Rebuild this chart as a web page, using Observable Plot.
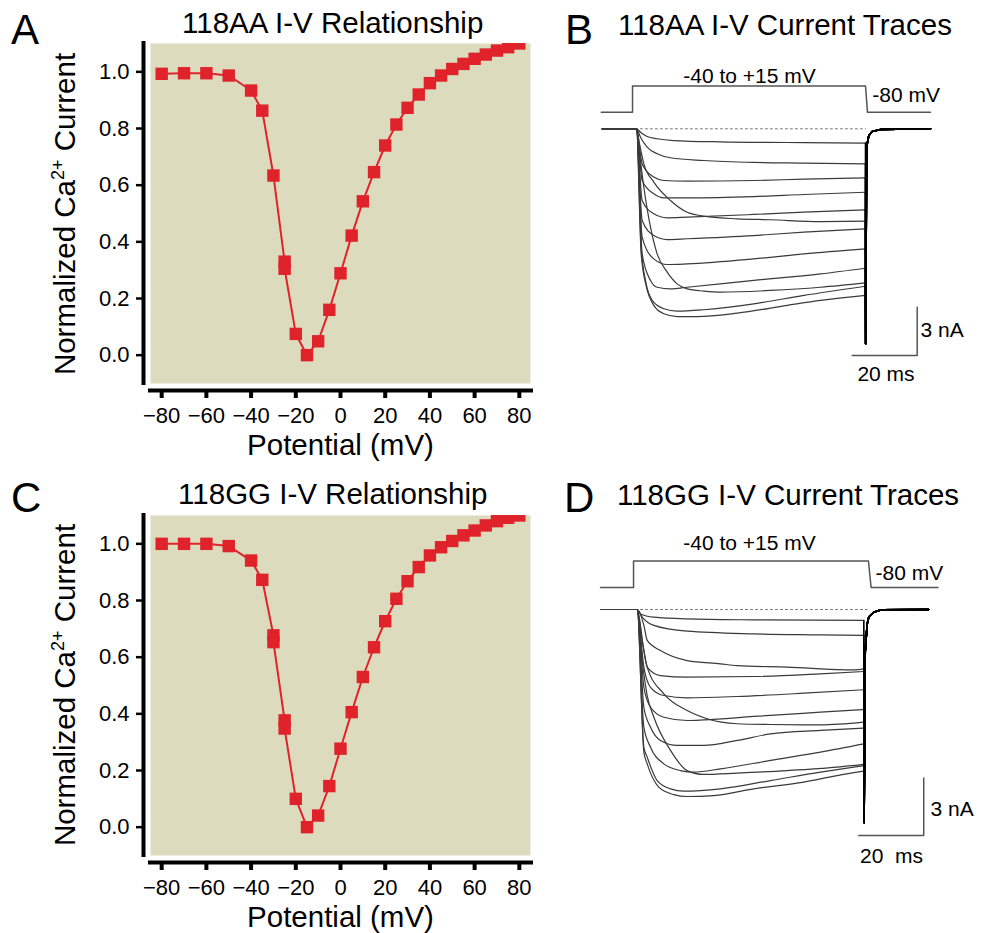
<!DOCTYPE html>
<html><head><meta charset="utf-8">
<script src="https://cdn.jsdelivr.net/npm/d3@7"></script>
<script src="https://cdn.jsdelivr.net/npm/@observablehq/plot@0.6"></script>
<style>
html,body{margin:0;padding:0;background:#fff;}
#fig{position:relative;width:981px;height:933px;overflow:hidden;background:#fff;}
</style></head><body><div id="fig"></div>
<script>
// ---------------- DATA ----------------
// Panel A / C : normalized I-V relationships
const potentialsAA = [-80,-70,-60,-50,-40,-35,-30,-25,-25,-20,-15,-10,-5,0,5,10,15,20,25,30,35,40,45,50,55,60,65,70,75,80];
const current118AA = [0.993,0.995,0.995,0.987,0.934,0.863,0.634,0.33,0.305,0.075,0.0,0.049,0.16,0.289,0.422,0.543,0.646,0.74,0.814,0.873,0.92,0.96,0.987,1.01,1.028,1.046,1.061,1.075,1.087,1.1];
const potentialsGG = [-80,-70,-60,-50,-40,-35,-30,-30,-25,-25,-20,-15,-10,-5,0,5,10,15,20,25,30,35,40,45,50,55,60,65,70,75,80];
const current118GG = [1.0,1.0,1.0,0.992,0.941,0.873,0.677,0.653,0.377,0.348,0.10,0.0,0.041,0.145,0.277,0.406,0.53,0.635,0.727,0.806,0.868,0.918,0.959,0.988,1.01,1.03,1.047,1.065,1.08,1.092,1.1];
const xTicks = [-80,-60,-40,-20,0,20,40,60,80];
const yTicks = [0,0.2,0.4,0.6,0.8,1.0];

// Panel B : 118AA current traces [time ms, current nA]
const tracesB = [
  [[1.23,0],[2.46,-0.21],[4.51,-0.48],[7.59,-0.62],[12.72,-0.73],[27.08,-0.81],[47.59,-0.85],[71.69,-0.89]],
  [[1.23,0],[2.46,-0.52],[4.51,-1.14],[7.59,-1.55],[11.69,-1.80],[21.95,-1.97],[37.33,-2.09],[52.72,-2.13],[71.69,-2.18]],
  [[1.23,0],[2.97,-2.18],[6.56,-3.00],[9.64,-3.21],[16.82,-3.25],[37.33,-3.21],[52.72,-3.13],[71.69,-3.05]],
  [[1.23,0],[2.97,-3.21],[6.56,-4.04],[9.64,-4.29],[16.82,-4.29],[37.33,-4.21],[52.72,-4.08],[71.69,-3.94]],
  [[1.23,0],[1.95,-0.73],[3.49,-2.18],[6.56,-3.31],[11.69,-4.45],[16.82,-5.18],[22.97,-5.45],[32.2,-5.59],[42.46,-5.65],[57.85,-5.76],[71.69,-5.74]],
  [[1.23,0],[2.97,-4.45],[6.56,-5.28],[10.67,-5.53],[16.82,-5.49],[37.33,-5.32],[52.72,-5.18],[71.69,-5.03]],
  [[1.23,0],[2.97,-5.70],[6.56,-6.63],[10.67,-6.88],[16.82,-6.83],[37.33,-6.63],[52.72,-6.42],[71.69,-6.21]],
  [[1.23,0],[2.97,-6.73],[6.56,-8.08],[10.67,-8.43],[16.82,-8.39],[37.33,-8.08],[52.72,-7.77],[71.69,-7.46]],
  [[1.23,0],[1.95,-1.14],[3.49,-3.63],[5.54,-6.11],[7.59,-7.77],[10.67,-8.90],[13.74,-9.63],[16.82,-9.94],[21.95,-10.08],[27.08,-10.15],[42.46,-10.04],[57.85,-9.84],[71.69,-9.57]],
  [[1.23,0],[2.97,-7.77],[5.54,-9.42],[7.59,-9.84],[11.69,-9.94],[16.82,-9.84],[37.33,-9.42],[57.85,-9.01],[71.69,-8.66]],
  [[1.23,0],[2.66,-7.35],[4.0,-9.42],[6.05,-10.66],[9.64,-11.18],[13.74,-11.33],[21.95,-11.24],[37.33,-10.87],[52.72,-10.35],[71.69,-9.78]],
  [[1.23,0],[2.66,-7.77],[4.31,-9.84],[6.56,-10.97],[9.64,-11.49],[13.74,-11.66],[19.9,-11.66],[32.2,-11.45],[47.59,-10.97],[57.85,-10.66],[71.69,-10.35]]
];
const startB = -9.3;
const tailB = [[71.75,-13.35],[72.0,-2.5],[72.2,-0.95],[72.72,-0.42],[73.75,-0.17],[76.31,-0.04],[91.7,0]];
const dottedB = [[0.9,0],[71.7,0]];
const protocolB = [[-9.6,-80],[0,-80],[0,15],[71.7,15],[72.3,-80],[91.7,-80]];
const scaleBarB = [[67.6,-14.08],[87.6,-14.08],[87.6,-11.08]];

// Panel D : 118GG current traces [time ms, current nA]
const tracesD = [
  [[1.13,0],[2.15,-0.23],[6.26,-0.40],[16.51,-0.49],[37.03,-0.54],[70.87,-0.57]],
  [[1.13,0],[2.67,-0.40],[6.26,-0.83],[16.51,-1.13],[37.03,-1.27],[57.54,-1.32],[70.87,-1.35]],
  [[1.13,0],[3.18,-0.83],[4.21,-1.61],[8.31,-2.14],[16.51,-2.66],[26.77,-2.83],[31.9,-2.92],[47.28,-3.0],[67.79,-3.14],[70.87,-3.09]],
  [[1.13,0],[3.18,-2.14],[4.21,-3.0],[8.31,-3.44],[16.51,-3.52],[37.03,-3.49],[57.54,-3.35],[70.87,-3.23]],
  [[1.13,0],[3.18,-3.0],[5.23,-4.05],[9.33,-4.48],[16.51,-4.60],[31.9,-4.53],[52.41,-4.36],[70.87,-4.18]],
  [[1.13,0],[2.67,-1.61],[4.21,-3.0],[9.33,-4.39],[16.51,-5.26],[22.67,-5.69],[31.9,-5.95],[42.15,-5.99],[57.54,-6.01],[70.87,-5.87]],
  [[1.13,0],[3.18,-4.05],[5.23,-5.09],[9.33,-5.61],[16.51,-5.78],[21.64,-5.75],[37.03,-5.57],[57.54,-5.35],[70.87,-5.21]],
  [[1.13,0],[3.18,-5.09],[5.23,-6.13],[8.31,-6.82],[13.44,-7.08],[21.64,-7.08],[31.9,-6.82],[42.15,-6.48],[57.54,-6.30],[70.87,-6.18]],
  [[1.13,0],[3.18,-6.13],[5.23,-7.17],[9.33,-8.04],[14.46,-8.39],[18.56,-8.47],[26.77,-8.30],[42.15,-7.86],[57.54,-7.43],[70.87,-7.0]],
  [[1.13,0],[2.67,-2.66],[4.21,-4.48],[6.26,-5.61],[11.38,-7.34],[16.51,-8.39],[21.64,-8.59],[31.9,-8.52],[47.28,-8.39],[62.67,-8.21],[70.87,-8.07]],
  [[1.13,0],[3.18,-7.17],[4.21,-7.69],[7.28,-8.91],[11.38,-9.34],[15.49,-9.46],[26.77,-9.34],[42.15,-8.91],[57.54,-8.47],[70.87,-8.13]],
  [[1.13,0],[3.18,-7.43],[4.21,-8.04],[7.79,-9.25],[12.41,-9.64],[16.51,-9.74],[24.72,-9.69],[37.03,-9.34],[52.41,-8.99],[62.67,-8.65],[70.87,-8.42]]
];
const startD = -10.15;
const tailD = [[70.95,-11.1],[71.3,-2.2],[71.9,-0.75],[72.4,-0.40],[73.9,-0.14],[76.0,-0.02],[90.8,0]];
const dottedD = [[2.15,0],[71.9,0]];
const protocolD = [[-10.15,-80],[0,-80],[0,15],[72.3,15],[73.1,-80],[93.7,-80]];
const scaleBarD = [[69.3,-11.77],[89.3,-11.77],[89.3,-8.77]];

const panelTitles = ["118AA I-V Relationship","118AA I-V Current Traces","118GG I-V Relationship","118GG I-V Current Traces"];
const panelLetters = ["A","B","C","D"];
const stepLabel = "-40 to +15 mV";
const holdLabel = "-80 mV";
const xLabel = "Potential (mV)";

// ---------------- STYLE ----------------
const FONT = '"Liberation Sans", Arial, Helvetica, sans-serif';
const BG = "#dcdbbd";
const RED = "#e0232b";
const TRACE = "#3a3a3a";
const GRAY = "#555";

const fig = document.getElementById("fig");
function place(el, left, top) {
  el.style.position = "absolute";
  el.style.left = left + "px";
  el.style.top = top + "px";
  fig.appendChild(el);
}

// ---------------- I-V panels ----------------
function ivPanel(vs, is, top, mt, mb) {
  const data = vs.map((v, k) => ({v, i: is[k]}));
  return place(Plot.plot({
    width: 560, height: 460,
    marginLeft: 150, marginRight: 30, marginTop: mt, marginBottom: mb,
    x: {domain: [-85, 85]},
    y: {domain: [-0.1, 1.1]},
    style: {fontFamily: FONT, fontSize: "22px", color: "#000", background: "transparent", overflow: "visible"},
    marks: [
      Plot.frame({fill: BG, stroke: "none"}),
      Plot.ruleX([-85], {dx: -7, strokeWidth: 4, insetTop: -2, insetBottom: -2}),
      Plot.ruleY([-0.1], {dy: 7, strokeWidth: 4, insetLeft: -2, insetRight: -3}),
      Plot.axisX(xTicks, {tickSize: 8, dy: 7, strokeWidth: 4, tickPadding: 9, fontSize: 22, label: null}),
      Plot.axisY(yTicks, {tickSize: 7, dx: -7, strokeWidth: 2.5, tickPadding: 7, fontSize: 22, label: null, tickFormat: d => d.toFixed(1)}),
      Plot.line(data, {x: "v", y: "i", stroke: RED, strokeWidth: 2, clip: true}),
      Plot.dot(data, {x: "v", y: "i", symbol: "square", r: 7, fill: RED, stroke: "none", clip: true}),
      Plot.text([xLabel], {frameAnchor: "bottom", dy: 62, fontSize: 29.5, lineAnchor: "middle", fill: "#000"})
    ]
  }), 0, top);
}
ivPanel(potentialsAA, current118AA, 0, 43, 77);
ivPanel(potentialsGG, current118GG, 470, 45, 75);

// ---------------- trace panels ----------------
function tracePanel(traces, start, tail, dotted, protocol, bar, opt) {
  const rows = traces.flatMap((tr, k) => [[start, 0], ...tr].map(([t, i]) => ({t, i, k})));
  const tailRows = traces.flatMap((tr, k) => [tr[tr.length - 1], ...tail].map(([t, i]) => ({t, i, k})));
  const common = {width: 391, marginLeft: opt.ml, marginRight: opt.mr, x: {domain: opt.xd, axis: null},
    style: {fontFamily: FONT, fontSize: "21px", color: "#000", background: "transparent", overflow: "visible"}};
  // voltage protocol
  place(Plot.plot({...common,
    height: opt.pH, marginTop: opt.pMt, marginBottom: 3,
    y: {domain: [-100, 40], axis: null},
    marks: [
      Plot.line(protocol, {x: d => d[0], y: d => d[1], stroke: GRAY, strokeWidth: 1.5}),
      Plot.text([stepLabel], {x: opt.stepX, y: opt.stepY, fontSize: 21, textAnchor: "middle", lineAnchor: "middle", fill: "#000"}),
      Plot.text([holdLabel], {x: opt.holdX, y: opt.holdY, fontSize: 21, textAnchor: "start", lineAnchor: "middle", fill: "#000"})
    ]
  }), 590, opt.pTop);
  // currents
  place(Plot.plot({...common,
    height: opt.tH, marginTop: opt.tMt, marginBottom: opt.tMb,
    y: {domain: opt.yd, axis: null},
    marks: [
      Plot.line(dotted, {x: d => d[0], y: d => d[1], stroke: "#777", strokeWidth: 1, strokeDasharray: "2,3"}),
      Plot.line(rows, {x: "t", y: "i", z: "k", curve: "monotone-x", stroke: TRACE, strokeWidth: 1.2}),
      Plot.line(tailRows, {x: "t", y: "i", z: "k", stroke: "#000", strokeWidth: 1.6}),
      Plot.line(bar, {x: d => d[0], y: d => d[1], stroke: GRAY, strokeWidth: 1.5}),
      Plot.text(["3 nA"], {x: opt.nAX, y: opt.nAY, fontSize: 21, textAnchor: "start", lineAnchor: "middle", fill: "#000"}),
      Plot.text([opt.msLabel], {x: opt.msX, y: opt.msY, fontSize: 21, textAnchor: "middle", lineAnchor: "middle", fill: "#000"})
    ]
  }), 590, opt.tTop);
}
tracePanel(tracesB, startB, tailB, dottedB, protocolB, scaleBarB, {
  ml: 9.5, mr: 46.75, xd: [-10, 93],
  pTop: 55, pH: 65.2, pMt: 23.6, stepX: 36, stepY: 52, holdX: 73.8, holdY: -20.5,
  tTop: 115, tH: 285, tMt: 5.25, tMb: 14.1, yd: [-16, 0.5],
  nAX: 88.6, nAY: -12.53, msLabel: "20 ms", msX: 78, msY: -15.25
});
tracePanel(tracesD, startD, tailD, dottedD, protocolD, scaleBarD, {
  ml: 8.9, mr: 42.5, xd: [-10.5, 94],
  pTop: 528, pH: 67.6, pMt: 25.5, stepX: 35.7, stepY: 79.5, holdX: 74.5, holdY: -27.3,
  tTop: 595, tH: 275, tMt: 4.4, tMb: 11.4, yd: [-13, 0.5],
  nAX: 91.4, nAY: -10.41, msLabel: "20  ms", msX: 79.4, msY: -12.85
});

// ---------------- titles, letters, y-axis titles ----------------
const ov = d3.create("svg").attr("width", 981).attr("height", 933)
  .style("position", "absolute").style("left", "0px").style("top", "0px")
  .style("pointer-events", "none").style("font-family", FONT).attr("fill", "#000");
ov.append("text").attr("x", 332.7).attr("y", 33).attr("text-anchor", "middle").attr("font-size", 29.5).text(panelTitles[0]);
ov.append("text").attr("x", 618).attr("y", 35).attr("font-size", 29.5).text(panelTitles[1]);
ov.append("text").attr("x", 332.8).attr("y", 504).attr("text-anchor", "middle").attr("font-size", 29.5).text(panelTitles[2]);
ov.append("text").attr("x", 617).attr("y", 505).attr("font-size", 29.5).text(panelTitles[3]);
ov.append("text").attr("x", 11).attr("y", 44).attr("font-size", 42).text(panelLetters[0]);
ov.append("text").attr("x", 565).attr("y", 44).attr("font-size", 42).text(panelLetters[1]);
ov.append("text").attr("x", 11).attr("y", 512).attr("font-size", 42).text(panelLetters[2]);
ov.append("text").attr("x", 564).attr("y", 512).attr("font-size", 42).text(panelLetters[3]);
for (const cy of [214, 685]) {
  const t = ov.append("text").attr("transform", `translate(75,${cy}) rotate(-90)`).attr("text-anchor", "middle").attr("font-size", 29.5);
  t.append("tspan").text("Normalized Ca");
  t.append("tspan").attr("dy", -11).attr("font-size", 18).text("2+");
  t.append("tspan").attr("dy", 11).text(" Current");
}
fig.appendChild(ov.node());
</script></body></html>
